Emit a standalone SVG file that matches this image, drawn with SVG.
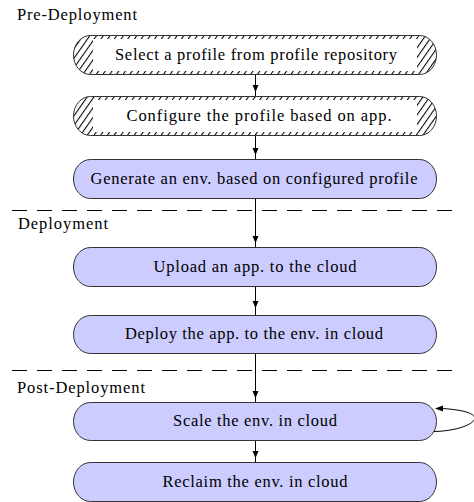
<svg xmlns="http://www.w3.org/2000/svg" width="474" height="502" viewBox="0 0 474 502">
  <defs>
    <!-- diagonal hatching for the pre-deployment steps -->
    <pattern id="hatch" patternUnits="userSpaceOnUse" width="5.5" height="12" patternTransform="rotate(35)">
      <line x1="0.5" y1="0" x2="0.5" y2="12" stroke="#000" stroke-width="1.1"/>
    </pattern>
  </defs>
  <style>
    .lbl { font-family: "Liberation Serif", "Times New Roman", serif; font-size: 16.5px; fill: #000; }
    .node { stroke: #333; stroke-width: 1; }
    .plain { fill: #ccccff; }
    .hatched { fill: url(#hatch); }
    .inner { fill: #fff; stroke: none; }
    .edge { stroke: #000; stroke-width: 1; fill: none; }
    .head { fill: #000; stroke: none; }
    .sep { stroke: #000; stroke-width: 1; stroke-dasharray: 15 10; }
  </style>

  <rect width="474" height="502" fill="#fff"/>

  <!-- phase separators and titles -->
  <g id="phases">
    <line class="sep" x1="12" y1="210.5" x2="460" y2="210.5"/>
    <line class="sep" x1="12" y1="370.5" x2="460" y2="370.5"/>
    <text class="lbl" x="17" y="20" textLength="120" lengthAdjust="spacing">Pre-Deployment</text>
    <text class="lbl" x="18" y="229" textLength="90" lengthAdjust="spacing">Deployment</text>
    <text class="lbl" x="17" y="393" textLength="128" lengthAdjust="spacing">Post-Deployment</text>
  </g>

  <!-- connectors -->
  <g id="connectors">
    <line class="edge" x1="255.5" y1="74" x2="255.5" y2="97"/>
    <polygon class="head" points="252.5,85 258.5,85 255.5,92"/>
    <line class="edge" x1="255.5" y1="135" x2="255.5" y2="159"/>
    <polygon class="head" points="252.5,148 258.5,148 255.5,155"/>
    <line class="edge" x1="255.5" y1="198" x2="255.5" y2="247"/>
    <polygon class="head" points="252.5,236 258.5,236 255.5,243"/>
    <line class="edge" x1="255.5" y1="286" x2="255.5" y2="315"/>
    <polygon class="head" points="252.5,301 258.5,301 255.5,308"/>
    <line class="edge" x1="255.5" y1="353" x2="255.5" y2="402"/>
    <polygon class="head" points="252.5,391 258.5,391 255.5,398"/>
    <line class="edge" x1="255.5" y1="441" x2="255.5" y2="462"/>
    <polygon class="head" points="252.5,451 258.5,451 255.5,458"/>
    <!-- self loop on scaling -->
    <path class="edge" d="M434,431.5 C470,431 500,412 442,408.5"/>
    <polygon class="head" points="435,408.5 443,405.5 443,411.5"/>
  </g>

  <g id="n1">
    <rect class="node hatched" x="73.5" y="35.5" width="363" height="39" rx="17" ry="19.5"/>
    <rect class="inner" x="93" y="39" width="324" height="32"/>
    <text class="lbl" x="256" y="60" text-anchor="middle" textLength="282" lengthAdjust="spacing">Select a profile from profile repository</text>
  </g>

  <g id="n2">
    <rect class="node hatched" x="73.5" y="96.5" width="363" height="39" rx="17" ry="19.5"/>
    <rect class="inner" x="93" y="100" width="324" height="32"/>
    <text class="lbl" x="259" y="121" text-anchor="middle" textLength="265" lengthAdjust="spacing">Configure the profile based on app.</text>
  </g>

  <g id="n3">
    <rect class="node plain" x="73.5" y="159.5" width="363" height="39" rx="17" ry="19.5"/>
    <text class="lbl" x="254" y="184" text-anchor="middle" textLength="327" lengthAdjust="spacing">Generate an env. based on configured profile</text>
  </g>

  <g id="n4">
    <rect class="node plain" x="73.5" y="247.5" width="363" height="39" rx="17" ry="19.5"/>
    <text class="lbl" x="255" y="272" text-anchor="middle" textLength="203" lengthAdjust="spacing">Upload an app. to the cloud</text>
  </g>

  <g id="n5">
    <rect class="node plain" x="73.5" y="315.5" width="363" height="38" rx="17" ry="19"/>
    <text class="lbl" x="254" y="339" text-anchor="middle" textLength="258" lengthAdjust="spacing">Deploy the app. to the env. in cloud</text>
  </g>

  <g id="n6">
    <rect class="node plain" x="73.5" y="402.5" width="363" height="38" rx="17" ry="19"/>
    <text class="lbl" x="255" y="426" text-anchor="middle" textLength="164" lengthAdjust="spacing">Scale the env. in cloud</text>
  </g>

  <g id="n7">
    <rect class="node plain" x="73.5" y="462.5" width="363" height="39" rx="17" ry="19.5"/>
    <text class="lbl" x="255" y="487" text-anchor="middle" textLength="185" lengthAdjust="spacing">Reclaim the env. in cloud</text>
  </g>
</svg>
